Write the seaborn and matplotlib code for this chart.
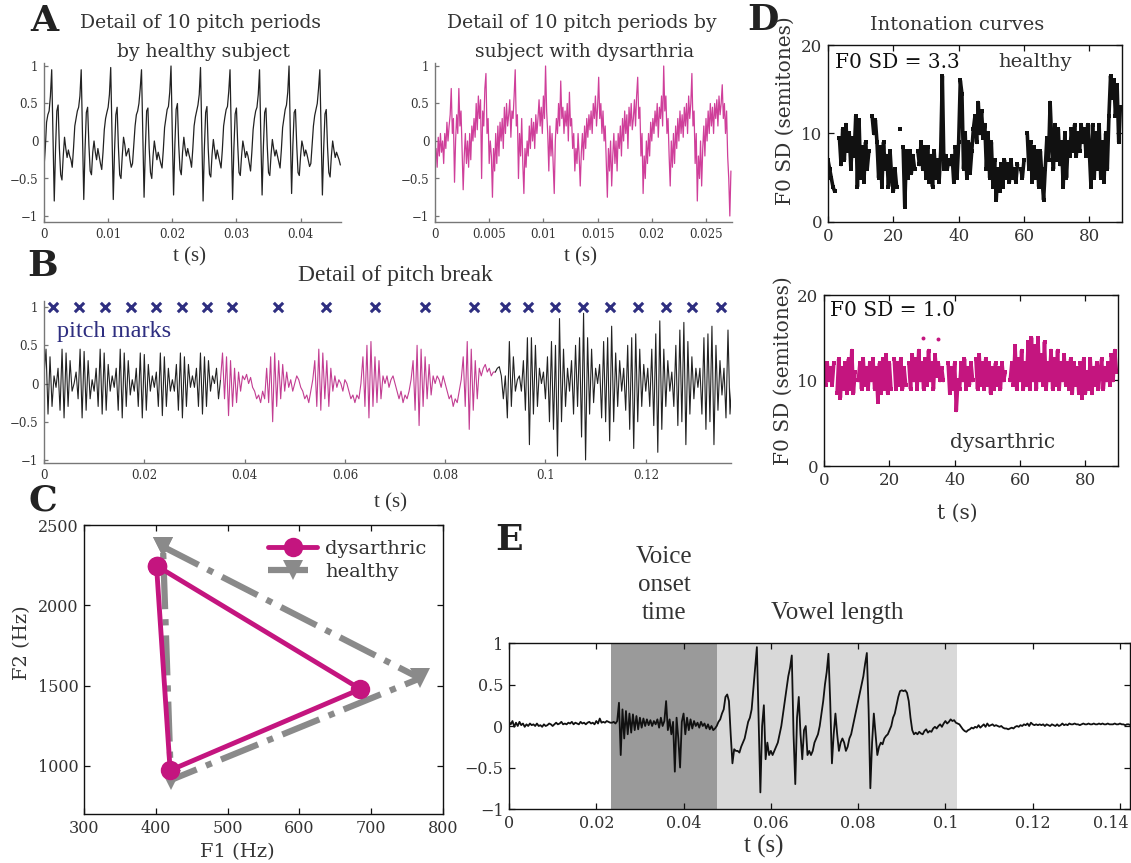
import numpy as np
import pandas as pd
import matplotlib
matplotlib.use("Agg")
import matplotlib.pyplot as plt
from matplotlib.transforms import ScaledTranslation
import seaborn as sns

nan = np.nan

# ---------------------------------------------------------------- data
# A: ten pitch periods, healthy speaker (sampled every 0.2 ms)
HEALTHY_STEP = 0.0002
healthy_wave = [
    -0.35, -0.10, 0.25, 0.35, 0.40, 0.60,
    0.95, 0.10, -0.80, -0.10, 0.40, 0.48, -0.10, -0.45, -0.52, -0.20, 0.05, -0.10, -0.22, -0.12, -0.20, -0.25, -0.35, -0.10, 0.20, 0.30, 0.40, 0.45, 0.60,
    0.95, 0.05, -0.78, -0.10, 0.38, 0.45, -0.05, -0.40, -0.45, -0.15, 0.00, -0.15, -0.25, -0.10, -0.20, -0.30, -0.38, -0.15, 0.15, 0.30, 0.38, 0.45, 0.62,
    0.98, 0.10, -0.78, -0.12, 0.35, 0.45, -0.08, -0.45, -0.50, -0.20, 0.05, -0.05, -0.20, -0.15, -0.10, -0.25, -0.35, -0.30, -0.05, 0.20, 0.35, 0.40, 0.50, 0.70,
    0.95, 0.08, -0.75, -0.10, 0.40, 0.44, -0.10, -0.42, -0.50, -0.20, 0.00, -0.12, -0.25, -0.15, -0.22, -0.30, -0.36, -0.12, 0.18, 0.30, 0.42, 0.46, 0.65,
    1.00, 0.10, -0.72, -0.05, 0.42, 0.50, -0.05, -0.38, -0.45, -0.15, 0.05, -0.10, -0.20, -0.10, -0.18, -0.25, -0.35, -0.10, 0.20, 0.32, 0.40, 0.48, 0.62,
    0.98, 0.05, -0.80, -0.10, 0.38, 0.46, -0.10, -0.44, -0.48, -0.18, 0.02, -0.12, -0.24, -0.12, -0.20, -0.28, -0.36, -0.12, 0.20, 0.32, 0.42, 0.46, 0.66,
    0.95, 0.10, -0.78, -0.10, 0.36, 0.44, -0.05, -0.42, -0.46, -0.20, 0.00, -0.10, -0.22, -0.14, -0.20, -0.30, -0.40, -0.15, 0.15, 0.30, 0.40, 0.45, 0.62,
    0.95, 0.06, -0.72, -0.08, 0.38, 0.44, -0.06, -0.42, -0.46, -0.18, 0.02, -0.10, -0.20, -0.12, -0.20, -0.28, -0.36, -0.12, 0.18, 0.30, 0.42, 0.48, 0.65,
    1.00, 0.10, -0.70, -0.05, 0.38, 0.42, -0.06, -0.42, -0.46, -0.20, 0.00, -0.08, -0.20, -0.12, -0.18, -0.26, -0.34, -0.30, -0.05, 0.20, 0.34, 0.42, 0.50, 0.70,
    0.95, 0.08, -0.72, -0.10, 0.36, 0.42, -0.08, -0.42, -0.48, -0.20, 0.00, -0.12, -0.22, -0.15, -0.20, -0.25, -0.32,
]

# A: ten pitch periods, speaker with dysarthria (sampled every 0.1 ms)
DYS_STEP = 0.0001
dysarthric_wave = [
    -0.30, -0.10, -0.35, 0.05, -0.20, 0.10, -0.15, 0.00, -0.30, 0.10, -0.10, 0.25, 0.00, 0.20, 0.35,
    0.70, 0.10, 0.30, -0.55, 0.00, 0.35, 0.10, 0.70, 0.20, 0.40, -0.10, -0.65,
    -0.20, 0.10, -0.30, 0.00, -0.35, 0.10, -0.25, 0.20, 0.00, 0.30, 0.05, 0.50,
    0.15, 0.60, 0.30, 0.55, -0.50, 0.40, 0.20, 0.70, 0.90, 0.10, 0.30,
    -0.30, 0.00, -0.20, -0.75, -0.10, -0.40, 0.10, -0.30, 0.20, -0.20, 0.25,
    0.00, 0.30, -0.10, 0.45, 0.10, 0.50, 0.20, 0.35, 0.55, 0.05, 0.40, 0.30, 0.60, 0.95,
    0.20, 0.35, -0.50, 0.10, -0.20, 0.30, -0.30, -0.70, -0.10, -0.35, 0.00, -0.20, 0.20, -0.10, 0.30,
    0.00, 0.25, -0.10, 0.35, 0.10, 0.30, 0.55, 0.20, 0.45, 0.10, 0.60, 0.30, 1.00, 0.40,
    0.10, -0.40, 0.20, -0.20, 0.10, -0.30, -0.70, 0.00, 0.30, 0.10, 0.50, 0.20,
    0.80, 0.30, 0.45, 0.10, 0.40, 0.20, 0.50, 0.00, 0.65, 0.20, 0.30, -0.10, 0.10, -0.40,
    -0.10, -0.30, 0.10, -0.20, -0.60, -0.15, 0.10, -0.25, 0.20, -0.10, 0.30, 0.05, 0.35, 0.15,
    0.40, 0.10, 0.50, 0.30, 0.60, 0.20, 0.45, 0.85, 0.30, 0.50, 0.10, 0.40, 0.00, 0.20,
    -0.30, -0.75, -0.10, -0.40, 0.00, -0.60, -0.20, 0.10, -0.30, 0.00, -0.40, 0.10, -0.10, 0.20,
    -0.20, 0.30, 0.00, 0.40, 0.10, 0.35, -0.10, 0.45, 0.20, 0.50, 0.15, 0.30, 0.55, 0.20, 0.60, 0.85,
    0.30, 0.45, -0.20, 0.10, -0.70, -0.20, -0.50, 0.00, -0.30, 0.10, -0.20, 0.25, 0.00, 0.30,
    0.10, 0.40, 0.20, 0.50, 0.05, 0.45, 0.30, 0.60, 0.20, 1.00, 0.40, 0.60, 0.10,
    0.30, -0.20, -0.60, 0.00, -0.35, 0.10, -0.30, 0.20, -0.10, 0.30, 0.00, 0.40, 0.10,
    0.35, 0.05, 0.45, 0.20, 0.50, 0.10, 0.60, 0.30, 0.50, 0.90, 0.20, 0.40, -0.30, 0.10,
    -0.80, -0.20, -0.50, 0.00, -0.60, -0.10, 0.20, -0.20, 0.30, 0.00, 0.40, 0.10, 0.50, 0.20,
    0.45, 0.10, 0.50, 0.30, 0.55, 0.20, 0.60, 0.35, 0.50, 0.75, 0.30, 0.50, 0.10, 0.40, -0.20, -0.50, -1.00, -0.40,
]

# B: pitch break (sampled every 0.4 ms) -- before, during and after the break
BREAK_STEP = 0.0004
break_before = [
    0.10, 0.45, -0.40, 0.35, -0.30, 0.10, -0.05, 0.20, -0.35, 0.45, -0.45, 0.40, -0.30,
    0.30, -0.10, 0.00, 0.15, -0.20, 0.45, -0.45, 0.42, -0.35, 0.30, -0.20, 0.05, -0.10,
    0.20, -0.30, 0.45, -0.40, 0.40, -0.35, 0.25, -0.10, 0.10, -0.05, 0.20, -0.35, 0.45,
    -0.45, 0.40, -0.30, 0.30, -0.15, 0.05, -0.10, 0.20, -0.30, 0.40, -0.45, 0.38, -0.35,
    0.25, -0.10, 0.10, -0.05, 0.15, -0.30, 0.40, -0.42, 0.35, -0.30, 0.20, -0.10, 0.05,
    -0.10, 0.25, -0.35, 0.40, -0.45, 0.35, -0.30, 0.25, -0.05, 0.10, -0.05, 0.20, -0.30,
    0.40, -0.40, 0.35, -0.30, 0.30, -0.10, 0.10, 0.00, 0.20, -0.20,
]
break_during = [
    0.05, 0.40, -0.20, 0.35, -0.42, 0.30, -0.30, 0.20, -0.25, 0.15, -0.10,
    0.10, 0.05, 0.12, 0.00, 0.08, -0.05, -0.10, -0.20, -0.15, -0.25, -0.10, -0.20,
    0.20, -0.25, 0.35, -0.50, 0.40, -0.30, 0.30, -0.20, 0.25, -0.10, 0.15,
    -0.05, 0.05, -0.10, 0.00, 0.10, 0.05, -0.05, -0.10, -0.20, -0.15, -0.25, -0.10, 0.05,
    0.30, -0.30, 0.45, -0.35, 0.40, -0.20, 0.30, -0.30, 0.20, -0.10, 0.10,
    -0.05, 0.05, 0.00, -0.10, 0.05, 0.00, -0.10, -0.20, -0.15, -0.25, -0.15, -0.20, 0.00,
    0.35, -0.30, 0.50, -0.45, 0.55, -0.30, 0.35, -0.25, 0.30, -0.20, 0.10,
    0.00, 0.10, -0.05, 0.05, 0.10, 0.00, -0.10, -0.20, -0.10, -0.25, -0.15, -0.20, -0.10, 0.05,
    0.30, -0.35, 0.50, -0.55, 0.45, -0.30, 0.35, -0.20, 0.25, -0.15, 0.10,
    0.00, 0.10, 0.05, -0.05, 0.10, 0.00, -0.10, -0.20, -0.15, -0.30, -0.20, -0.25, -0.10, 0.05,
    0.35, -0.30, 0.55, -0.60, 0.45, -0.35, 0.30, -0.20, 0.20, 0.10, 0.20, 0.25, 0.15, 0.20, 0.10, 0.15,
]
break_after = [
    0.15, 0.20, 0.22, 0.10, -0.20, 0.10, -0.45, 0.55, -0.30, 0.35, -0.10, 0.05, 0.10,
    -0.10, 0.30, -0.35, 0.60, -0.80, 0.60, -0.40, 0.50, -0.30, 0.20, 0.00, 0.15, -0.20, 0.35,
    -0.50, 0.55, -0.60, 0.50, -0.95, 0.85, -0.50, 0.45, -0.30, 0.20, -0.10, 0.30, -0.40,
    0.50, -0.30, 0.60, -0.70, 0.92, -1.00, 0.60, -0.40, 0.45, -0.25, 0.20, 0.00, 0.25, -0.45,
    0.55, -0.50, 0.60, -0.75, 0.75, -0.50, 0.40, -0.30, 0.30, -0.10, 0.20, -0.35, 0.50,
    -0.60, 0.60, -0.85, 0.65, -0.50, 0.45, -0.30, 0.25, -0.10, 0.20, -0.30, 0.45, -0.55, 0.65,
    -0.90, 0.82, -0.60, 0.45, -0.30, 0.30, -0.10, 0.15, -0.30, 0.50, -0.55, 0.70, -0.50,
    0.80, -0.80, 0.55, -0.40, 0.35, -0.20, 0.20, -0.05, 0.20, -0.40, 0.60, -0.60, 0.65, -0.50,
    0.75, -0.80, 0.50, -0.35, 0.30, -0.15, 0.20, -0.45, 0.70, -0.40, 0.05,
]
pitch_marks = [0.0018, 0.0069, 0.0121, 0.0173, 0.0223, 0.0275, 0.0325, 0.0374,
               0.0467, 0.0563, 0.0660, 0.0759, 0.0857,
               0.0919, 0.0966, 0.1020, 0.1075, 0.1129, 0.1184, 0.1240, 0.1293, 0.1350]
PITCH_MARK_LEVEL = 1.0

# C: vowel triangles (F1, F2 in Hz)
vowel_f1_dys = [401, 685, 420]
vowel_f2_dys = [2246, 1478, 972]
vowel_f1_hea = [410, 768, 421]
vowel_f2_hea = [2365, 1545, 912]

# D: intonation curves, F0 in semitones every 0.5 s (nan = unvoiced)
INTON_STEP = 0.5
f0_sd_healthy = 3.3
f0_sd_dysarthric = 1.0
f0_healthy = [
    7, 6, 5, 4, 3.5, nan, nan, 9.5, 6.5, 10.5,
    7, 11, 8, 10, 6, 9.5, 7.5, 12, 4, 11.5,
    5, 8.5, 4.5, 9, 6, 8, nan, 12, 10, 11.5,
    9, 5, 8.5, 4, 9, 6, 7.5, 4, 8, 5,
    3.5, 6, 4, nan, 10.5, nan, 8.5, 1.7, 8, 5,
    8, 5.5, 7.5, 6, nan, 8, 6.5, 9, 6, 8.5,
    5, 8.5, 4.5, 7.5, 4, 8, 5, 7, 4.5, 8,
    16.5, 6, 7.5, 6, 7, 6.5, 7.5, 4.5, 8.5, 5,
    9, 16, 14.5, 6, 10, 5, 9, 5.5, 8, 10.5,
    12, 9, 13.5, 10, 12.5, 9.5, 11, 6, 10, 5,
    9, 4, 7, 2.5, 6, 3.5, 6.5, 4, 7, 5,
    6.5, 4.5, 7, 5, 6, 4.5, 6.5, nan, 6, 5,
    7, nan, 10, 6, 9, 4.5, 8.5, 5, 8, 4,
    8, 5, 2.5, 6, 9.5, 7, 13.5, 9, 6, 11,
    7, 10.5, 6.5, 9, 4, 10, 5, 9, 7.5, 10.5,
    8, 11, 7.5, 10, 8, 11, 9, 10.5, 7.5, 11,
    8, 4, 11, 5, 10, 6, 11, 5, 9, 4.5,
    10, 6, 12, 16.5, 14, 16, 12, 15.5, 9, 13,
]
f0_dysarthric = [
    11, 9.5, 12, 10, 11.5, 9.5, 12, nan, 8.5, 12.5,
    8, 11.5, 9, 12, 8.5, 12.5, 9, 13.5, 8.5, 11,
    nan, 10, 12, 9, 12.5, 9.5, 11.5, 9, 12, 10,
    12.5, 9, 11.5, 7.5, 12, 8.5, 12.5, 9, 13, 8.5,
    12, 9, nan, 12.5, 9, 12, 9.5, 12.5, 9, 11.5,
    9.5, nan, 12, 9, 13, 10, 12.5, 9, 13.5, 10,
    12, 9, 12.5, 9.5, 13.5, 10, 12, 9, 13, 10.5,
    12, 10, 11.5, 10, nan, nan, 12, 8.5, 11.5, 9,
    12, 6.5, 10, 9, 12, 10, 12.5, 9, 11.5, 9.5,
    12, 10, nan, 12.5, 9, 13, 9.5, 12, 9, 12.5,
    9.5, 12, 8.5, 11.5, 9, 12, 9.5, 11.5, 9, 12,
    10, 11, nan, nan, 10, 12, 9.5, 14, 9, 12.5,
    10, 13.5, 9, 12, 9.5, 14.5, 9, 15, 10, 14,
    9, 15, 10, 13, 9.5, 14.5, 9, 12, 10, 13.5,
    9, 12.5, 9.5, 13.5, 9, 12, 10, 13, 9.5, 12,
    9, 12.5, 8.5, 12, 9.5, 11.5, 8.5, 12, 8, 12.5,
    8.5, 11, 9, 12.5, 8.5, 11.5, 9.5, 12, 9, 11,
    12.5, 9, 11.5, 10, 12, 9.5, 13, 10, 13.5, 11,
]
f0_dys_dot_t = [30.4, 35.0]
f0_dys_dot_v = [15.0, 14.8]

# E: voice onset time and vowel length (sampled every 0.4 ms)
ONSET_STEP = 0.0004
onset_silence = [
    0.05, 0.02, 0.06, -0.01, 0.04, 0.00, 0.05, 0.01, 0.03, -0.01,
    0.02, 0.00, 0.03, 0.01, 0.02, 0.00, 0.03, 0.00, 0.01, -0.01,
    0.02, 0.00, 0.01, 0.03, 0.02, 0.00, 0.02, 0.04, 0.02, 0.03,
    0.05, 0.02, 0.03, 0.02, 0.04, 0.03, 0.05, 0.02, 0.04, 0.03,
    0.02, 0.05, 0.03, 0.04, 0.02, 0.04, 0.05, 0.03, 0.04, 0.02,
    0.06, 0.03, 0.09, 0.04, 0.05, 0.04, 0.06, 0.05, 0.04,
]
onset_burst = [
    0.04, 0.05, 0.03, 0.06, 0.28, -0.35, 0.20, -0.15, 0.18, -0.10,
    0.15, -0.08, 0.14, -0.05, 0.12, -0.04, 0.10, -0.02, 0.09, 0.00,
    0.08, 0.01, 0.07, 0.00, 0.06, 0.02, 0.08, -0.02, 0.10, 0.00,
    0.06, 0.30, -0.05, 0.08, -0.10, 0.05, -0.55, 0.10, -0.15, -0.50,
    0.05, 0.15, -0.10, 0.10, -0.05, 0.08, -0.03, 0.06, 0.00, 0.04,
    -0.02, 0.05, 0.00, 0.03, -0.03, 0.02, -0.04, 0.00, -0.05, -0.03,
    0.00, 0.05,
]
onset_vowel = [
    0.08, 0.15, 0.20, 0.35, 0.38, 0.30, -0.10, -0.45, -0.28, -0.30,
    -0.30, -0.32, -0.25, -0.20, -0.15, -0.05, 0.05, 0.10, 0.20, 0.45,
    0.70, 0.95, 0.10, -0.80, 0.00, 0.25, -0.40, -0.20, -0.35, -0.30,
    -0.35, -0.30, -0.25, -0.20, -0.10, 0.00, 0.15, 0.30, 0.45, 0.60,
    0.70, 0.85, -0.10, -0.70, 0.10, 0.35, -0.10, -0.40, -0.05, 0.00,
    -0.35, -0.30, -0.35, -0.30, -0.20, -0.15, -0.10, 0.00, 0.15, 0.30,
    0.50, 0.65, 0.87, 0.30, -0.45, -0.10, 0.15, -0.10, -0.30, -0.20,
    -0.15, -0.20, -0.30, -0.25, -0.15, -0.10, 0.00, 0.10, 0.20, 0.30,
    0.40, 0.50, 0.60, 0.75, 0.88, 0.20, -0.75, -0.20, 0.15, -0.10,
    -0.35, -0.25, -0.20, -0.22, -0.15, -0.12, -0.10, -0.05, 0.00, 0.10,
    0.15, 0.25, 0.35, 0.42, 0.43, 0.42, 0.43, 0.40, 0.30, 0.10,
    -0.05, -0.10, -0.08, -0.10, -0.07, -0.09, -0.10, -0.06, -0.04, -0.08,
    -0.06, -0.07, -0.03, -0.01, -0.03, 0.00, 0.02, -0.01, 0.03, 0.06,
    0.03, 0.05, 0.08, 0.06, 0.07, 0.04,
]
onset_tail = [
    0.03, 0.02, -0.01, -0.04, -0.06, -0.07, -0.05, -0.04, -0.02, -0.03,
    -0.01, -0.02, 0.01, -0.02, 0.00, 0.02, -0.01, 0.03, 0.00, 0.01,
    0.02, 0.00, 0.01, 0.00, -0.01, 0.00, -0.02, -0.03, -0.03, -0.04,
    -0.03, -0.02, -0.03, -0.01, 0.00, -0.01, 0.01, 0.00, 0.02, 0.01,
    0.03, 0.00, 0.04, 0.02, 0.01, 0.02, 0.01, 0.02, 0.01, 0.02,
    0.00, 0.02, 0.01, 0.00, 0.02, 0.01, 0.00, 0.02, 0.00, 0.01,
    0.03, 0.01, 0.02, 0.01, 0.03, 0.02, 0.02, 0.03, 0.02, 0.02,
    0.01, 0.02, 0.03, 0.02, 0.02, 0.03, 0.02, 0.02, 0.03, 0.02,
    0.02, 0.03, 0.02, 0.03, 0.02, 0.02, 0.03, 0.02, 0.02, 0.02,
    0.03, 0.02, 0.02, 0.03, 0.02, 0.02, 0.01, 0.02, 0.02, 0.01,
]
vot_span = (0.0234, 0.0477)
vowel_span = (0.0477, 0.1027)

# ---------------------------------------------------------------- style
W, H = 1131, 863
sns.set_theme(style="ticks")
plt.rcParams["font.family"] = ["DejaVu Serif"]
plt.rcParams["text.color"] = "#333333"

MAGENTA = "#c4157f"
WAVE_PINK = "#cf3f9a"
NAVY = "#2e2e80"
GREY = "#8a8a8a"
COND = "Liberation Serif"

fig = plt.figure(figsize=(W / 100, H / 100), dpi=100)
fig.patch.set_facecolor("white")


def px_axes(left, top, right, bottom):
    return fig.add_axes([left / W, 1 - bottom / H, (right - left) / W, (bottom - top) / H])


def fig_text(x, y, s, ha="center", va="center", **kw):
    fig.text(x / W, 1 - y / H, s, ha=ha, va=va, **kw)


def fmt(v):
    return f"{v:g}".replace("-", "\u2212")


def style(ax, box, spine_color, labelsize, xt, yt, ticklen=4):
    ax.set_facecolor("white")
    ax.spines["top"].set_visible(box)
    ax.spines["right"].set_visible(box)
    for sp in ax.spines.values():
        sp.set_color(spine_color)
        sp.set_linewidth(1.0)
    ax.set_xticks(xt)
    ax.set_xticklabels([fmt(v) for v in xt])
    ax.set_yticks(yt)
    ax.set_yticklabels([fmt(v) for v in yt])
    ax.tick_params(direction="in", length=ticklen, width=0.9, color=spine_color,
                   labelsize=labelsize, labelcolor="#333333",
                   top=box, right=box, bottom=True, left=True, pad=4)
    ax.set_xlabel("")
    ax.set_ylabel("")


def times(values, step):
    return np.arange(len(values)) * step


AMP_TICKS = [-1, -0.5, 0, 0.5, 1]

# ---------------------------------------------------------------- A
ax_a1 = px_axes(44, 63, 341, 222)
sns.lineplot(x=times(healthy_wave, HEALTHY_STEP), y=healthy_wave, ax=ax_a1,
             color="#222222", lw=0.9, sort=False, estimator=None)
ax_a1.set_xlim(0, 0.0463)
ax_a1.set_ylim(-1.08, 1.04)
style(ax_a1, False, "#777777", 8.5, [0, 0.01, 0.02, 0.03, 0.04], AMP_TICKS, ticklen=3)

ax_a2 = px_axes(435, 63, 732, 222)
sns.lineplot(x=times(dysarthric_wave, DYS_STEP), y=dysarthric_wave, ax=ax_a2,
             color=WAVE_PINK, lw=0.9, sort=False, estimator=None)
ax_a2.set_xlim(0, 0.0274)
ax_a2.set_ylim(-1.08, 1.04)
style(ax_a2, False, "#777777", 8.5, [0, 0.005, 0.01, 0.015, 0.02, 0.025], AMP_TICKS, ticklen=3)

fig_text(44, 21, "A", fontsize=26, fontweight="bold", color="#222222")
fig_text(201, 23, "Detail of 10 pitch periods", fontsize=13.5)
fig_text(203, 52, "by healthy subject", fontsize=13.5)
fig_text(582, 23, "Detail of 10 pitch periods by", fontsize=13.5)
fig_text(585, 52, "subject with dysarthria", fontsize=13.5)
fig_text(190, 257, "t (s)", fontsize=15, family=COND)
fig_text(580, 257, "t (s)", fontsize=15, family=COND)

# ---------------------------------------------------------------- B
ax_b = px_axes(44, 301, 731, 463)
n0, n1 = len(break_before), len(break_during)
b_all = np.array(break_before + break_during + break_after)
t_b = times(b_all, BREAK_STEP)
sns.lineplot(x=t_b[:n0 + 1], y=b_all[:n0 + 1], ax=ax_b, color="#222222", lw=0.8,
             sort=False, estimator=None)
sns.lineplot(x=t_b[n0:n0 + n1 + 1], y=b_all[n0:n0 + n1 + 1], ax=ax_b, color="#c23d92",
             lw=0.8, sort=False, estimator=None)
sns.lineplot(x=t_b[n0 + n1:], y=b_all[n0 + n1:], ax=ax_b, color="#222222", lw=0.8,
             sort=False, estimator=None)
sns.scatterplot(x=pitch_marks, y=[PITCH_MARK_LEVEL] * len(pitch_marks), ax=ax_b,
                marker="x", s=45, linewidth=2.2, color=NAVY, legend=False, zorder=5)
ax_b.set_xlim(0, 0.137)
ax_b.set_ylim(-1.04, 1.08)
style(ax_b, False, "#777777", 8.5, [0, 0.02, 0.04, 0.06, 0.08, 0.1, 0.12], AMP_TICKS, ticklen=3)

fig_text(43, 266, "B", fontsize=26, fontweight="bold", color="#222222")
fig_text(395, 275, "Detail of pitch break", fontsize=17, family=COND)
fig_text(57, 331, "pitch marks", ha="left", fontsize=17.5, family=COND, color=NAVY)
fig_text(390, 503, "t (s)", fontsize=15, family=COND)

# ---------------------------------------------------------------- C
ax_c = px_axes(84, 525, 443, 814)
hea_f1 = np.r_[vowel_f1_hea, vowel_f1_hea[:1]]
hea_f2 = np.r_[vowel_f2_hea, vowel_f2_hea[:1]]
dys_f1 = np.r_[vowel_f1_dys, vowel_f1_dys[:1]]
dys_f2 = np.r_[vowel_f2_dys, vowel_f2_dys[:1]]
sns.lineplot(x=hea_f1, y=hea_f2, ax=ax_c, sort=False, estimator=None, color=GREY,
             lw=4.5, ls="-.", marker="v", markersize=15, markeredgecolor=GREY,
             markeredgewidth=0, label="healthy")
sns.lineplot(x=dys_f1, y=dys_f2, ax=ax_c, sort=False, estimator=None, color=MAGENTA,
             lw=3.5, marker="o", markersize=14, markeredgecolor=MAGENTA,
             markeredgewidth=0, label="dysarthric")
ax_c.set_xlim(300, 800)
ax_c.set_ylim(700, 2500)
style(ax_c, True, "#111111", 11.5, [300, 400, 500, 600, 700, 800], [1000, 1500, 2000, 2500])
handles, labels = ax_c.get_legend_handles_labels()
order = [labels.index("dysarthric"), labels.index("healthy")]
ax_c.legend([handles[i] for i in order], [labels[i] for i in order],
            loc="upper right", bbox_to_anchor=(0.975, 0.975), frameon=False,
            fontsize=14, handlelength=2.5, handletextpad=0.4, labelspacing=0.25,
            borderaxespad=0)
fig_text(43, 500, "C", fontsize=26, fontweight="bold", color="#222222")
fig_text(237, 852, "F1 (Hz)", fontsize=14)
fig_text(22, 643, "F2 (Hz)", fontsize=14, rotation=90)

# ---------------------------------------------------------------- D


def draw_intonation(ax, values, color):
    v = np.asarray(values, dtype=float)
    df = pd.DataFrame({"t": times(v, INTON_STEP), "f0": v, "run": np.cumsum(np.isnan(v))})
    sns.lineplot(data=df.dropna(), x="t", y="f0", units="run", estimator=None, sort=False,
                 color=color, lw=2.6, marker="s", markersize=2.5, markeredgewidth=0,
                 ax=ax, legend=False)


ax_d1 = px_axes(828, 45, 1122, 222)
draw_intonation(ax_d1, f0_healthy, "#111111")
ax_d1.set_xlim(0, 90)
ax_d1.set_ylim(0, 20)
style(ax_d1, True, "#111111", 12, [0, 20, 40, 60, 80], [0, 10, 20])

ax_d2 = px_axes(824, 295, 1118, 466)
draw_intonation(ax_d2, f0_dysarthric, MAGENTA)
sns.scatterplot(x=f0_dys_dot_t, y=f0_dys_dot_v, ax=ax_d2, color=MAGENTA, s=8,
                linewidth=0, legend=False)
ax_d2.set_xlim(0, 90)
ax_d2.set_ylim(0, 20)
style(ax_d2, True, "#111111", 12, [0, 20, 40, 60, 80], [0, 10, 20])

fig_text(763, 20, "D", fontsize=26, fontweight="bold", color="#222222")
fig_text(957, 25, "Intonation curves", fontsize=14)
fig_text(785, 111, "F0 SD (semitones)", fontsize=14.5, rotation=90)
fig_text(783, 371, "F0 SD (semitones)", fontsize=14.5, rotation=90)
fig_text(835, 62, f"F0 SD = {f0_sd_healthy:.1f}", ha="left", fontsize=14.5, color="#111111")
fig_text(998, 62, "healthy", ha="left", fontsize=14)
fig_text(830, 310, f"F0 SD = {f0_sd_dysarthric:.1f}", ha="left", fontsize=14.5, color="#111111")
fig_text(950, 442, "dysarthric", ha="left", fontsize=14.5)
fig_text(957, 513, "t (s)", fontsize=14.5)

# ---------------------------------------------------------------- E
ax_e = px_axes(509, 643, 1130, 809)
ax_e.axvspan(*vot_span, color="#9a9a9a", lw=0, zorder=0)
ax_e.axvspan(*vowel_span, color="#d9d9d9", lw=0, zorder=0)
e_all = onset_silence + onset_burst + onset_vowel + onset_tail
sns.lineplot(x=times(e_all, ONSET_STEP), y=e_all, ax=ax_e, color="#111111", lw=1.3,
             sort=False, estimator=None)
ax_e.set_xlim(0, 0.1423)
ax_e.set_ylim(-1, 1)
style(ax_e, True, "#111111", 11.5, [0, 0.02, 0.04, 0.06, 0.08, 0.1, 0.12, 0.14], AMP_TICKS)
# keep the last tick label inside the figure edge
last = ax_e.get_xticklabels()[-1]
last.set_transform(last.get_transform() + ScaledTranslation(-0.09, 0, fig.dpi_scale_trans))

fig_text(509, 540, "E", fontsize=26, fontweight="bold", color="#222222")
fig_text(664, 557, "Voice", fontsize=18, family=COND)
fig_text(664, 585, "onset", fontsize=18, family=COND)
fig_text(664, 613, "time", fontsize=18, family=COND)
fig_text(837, 613, "Vowel length", fontsize=18, family=COND)
fig_text(764, 846, "t (s)", fontsize=18, family=COND)

fig.savefig("out.png", dpi=100, facecolor="white")
